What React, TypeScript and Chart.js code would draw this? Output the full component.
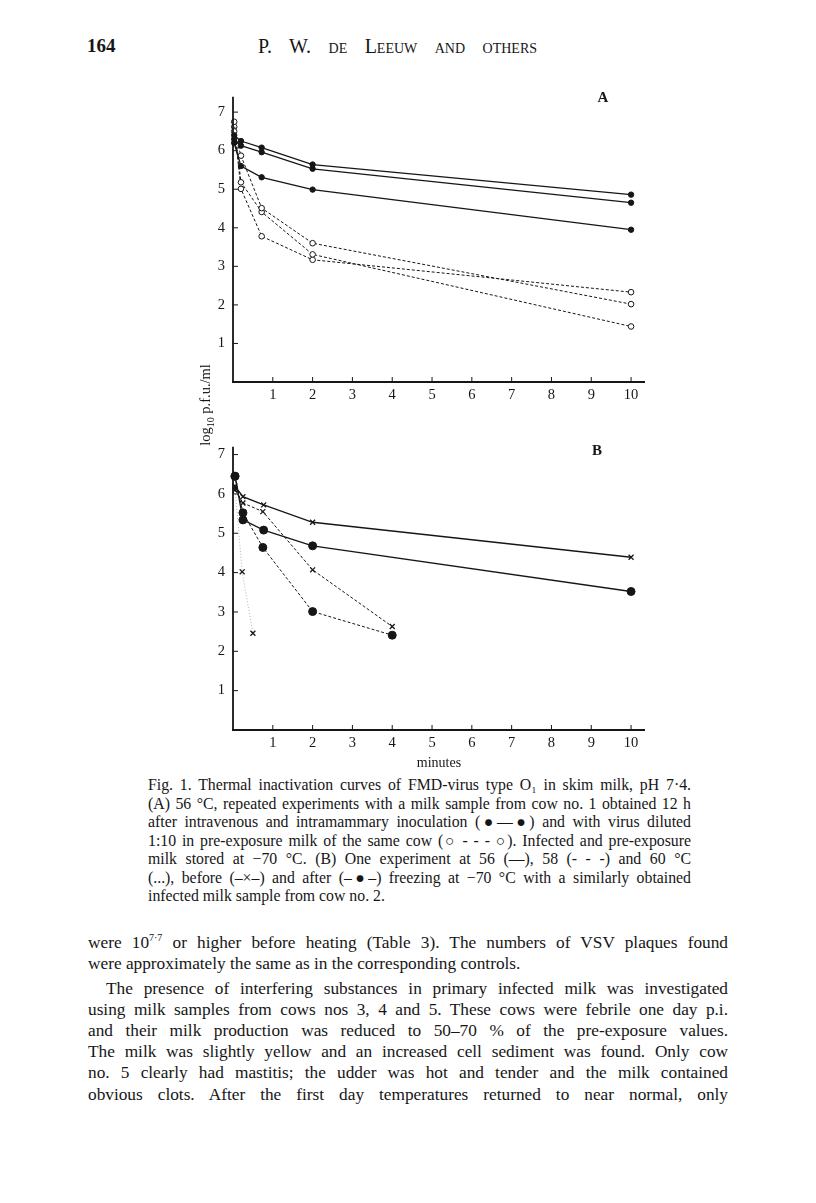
import React, { useEffect, useRef } from "react";
import { Chart, registerables } from "chart.js";

Chart.register(...registerables);

const INK = "#161616";
const SERIF = "'Liberation Serif', 'DejaVu Serif', serif";

// ---- shared axis ticks ----
const xTicks = [1, 2, 3, 4, 5, 6, 7, 8, 9, 10];
const yTicks = [1, 2, 3, 4, 5, 6, 7];

// ---- Panel A: 56 °C, infected milk (solid, filled circles) ----
const aInfected1: [number, number][] = [[0.03, 6.4], [0.2, 6.25], [0.72, 6.08], [2, 5.64], [10, 4.86]];
const aInfected2: [number, number][] = [[0.03, 6.3], [0.2, 6.13], [0.72, 5.96], [2, 5.53], [10, 4.65]];
const aInfected3: [number, number][] = [[0.03, 6.2], [0.2, 5.6], [0.72, 5.31], [2, 4.99], [10, 3.95]];
// ---- Panel A: virus diluted 1:10 in pre-exposure milk (dashed, open circles) ----
const aDiluted1: [number, number][] = [[0.03, 6.5], [0.2, 5.87], [0.72, 4.51], [2, 3.6], [10, 2.02]];
const aDiluted2: [number, number][] = [[0.03, 6.75], [0.2, 5.18], [0.72, 4.41], [2, 3.31], [10, 1.44]];
const aDiluted3: [number, number][] = [[0.03, 6.62], [0.2, 5.01], [0.72, 3.78], [2, 3.17], [10, 2.33]];

// ---- Panel B: cow no. 2 ----
const b56Before: [number, number][] = [[0.05, 6.2], [0.25, 5.93], [0.77, 5.72], [2, 5.28], [10, 4.39]];
const b56After: [number, number][] = [[0.05, 6.45], [0.25, 5.34], [0.77, 5.08], [2, 4.68], [10, 3.52]];
const b58Before: [number, number][] = [[0.05, 6.1], [0.25, 5.77], [0.75, 5.55], [2, 4.07], [4, 2.63]];
const b58After: [number, number][] = [[0.05, 6.45], [0.25, 5.52], [0.75, 4.64], [2, 3.01], [4, 2.41]];
const b60Before: [number, number][] = [[0.05, 6.15], [0.23, 4.02], [0.5, 2.46]];

type Series = {
  pts: [number, number][];
  dash: number[];
  lw: number;
  style: string;
  r: number;
  fill: string;
  line?: string;
};

const seriesA: Series[] = [
  { pts: aInfected1, dash: [], lw: 1.3, style: "circle", r: 2.7, fill: INK },
  { pts: aInfected2, dash: [], lw: 1.3, style: "circle", r: 2.7, fill: INK },
  { pts: aInfected3, dash: [], lw: 1.3, style: "circle", r: 2.7, fill: INK },
  { pts: aDiluted1, dash: [3, 2], lw: 1, style: "circle", r: 2.8, fill: "#fff" },
  { pts: aDiluted2, dash: [3, 2], lw: 1, style: "circle", r: 2.8, fill: "#fff" },
  { pts: aDiluted3, dash: [3, 2], lw: 1, style: "circle", r: 2.8, fill: "#fff" },
];

const seriesB: Series[] = [
  { pts: b56Before, dash: [], lw: 1.3, style: "crossRot", r: 3.5, fill: INK },
  { pts: b56After, dash: [], lw: 1.3, style: "circle", r: 4, fill: INK },
  { pts: b58Before, dash: [3, 2], lw: 1, style: "crossRot", r: 3.5, fill: INK },
  { pts: b58After, dash: [3, 2], lw: 1, style: "circle", r: 4, fill: INK },
  { pts: b60Before, dash: [1, 2], lw: 1, style: "crossRot", r: 3.5, fill: INK, line: "rgba(0,0,0,0.3)" },
];

const axesPlugin = {
  id: "inwardAxes",
  afterDatasetsDraw(chart: any) {
    const { ctx, scales } = chart;
    const x = scales.x;
    const y = scales.y;
    const x0 = x.getPixelForValue(0);
    const y0 = y.getPixelForValue(0);
    const xEnd = x.getPixelForValue(x.max);
    const yTop = y.getPixelForValue(y.max);
    ctx.save();
    ctx.strokeStyle = INK;
    ctx.setLineDash([]);
    ctx.lineWidth = 1.8;
    ctx.beginPath();
    ctx.moveTo(x0, y0 + 1);
    ctx.lineTo(x0, yTop);
    ctx.moveTo(x0 - 1, y0);
    ctx.lineTo(xEnd, y0);
    ctx.stroke();
    ctx.lineWidth = 1;
    ctx.beginPath();
    x.ticks.forEach((t: any) => {
      const px = x.getPixelForValue(t.value);
      ctx.moveTo(px, y0);
      ctx.lineTo(px, y0 - 5);
    });
    y.ticks.forEach((t: any) => {
      const py = y.getPixelForValue(t.value);
      ctx.moveTo(x0, py);
      ctx.lineTo(x0 + 5, py);
    });
    ctx.stroke();
    ctx.restore();
  },
};

type PanelProps = {
  left: number;
  top: number;
  width: number;
  height: number;
  series: Series[];
  xMax: number;
  yMax: number;
  padTop: number;
  padRight: number;
  yW: number;
  xH: number;
  xTitle?: string;
};

function Panel(p: PanelProps) {
  const ref = useRef<HTMLCanvasElement>(null);
  useEffect(() => {
    if (!ref.current) return;
    const tickFont = { family: SERIF, size: 14.5 };
    const chart = new Chart(ref.current, {
      type: "scatter",
      data: {
        datasets: p.series.map((s) => ({
          data: s.pts.map(([x, y]) => ({ x, y })),
          showLine: true,
          borderColor: s.line || INK,
          borderWidth: s.lw,
          borderDash: s.dash,
          pointStyle: s.style as any,
          pointRadius: s.r,
          pointBackgroundColor: s.fill,
          pointBorderColor: INK,
          pointBorderWidth: s.style === "crossRot" ? 1.3 : 1,
          tension: 0,
          clip: false as any,
        })),
      },
      options: {
        responsive: false,
        animation: false,
        layout: { padding: { top: p.padTop, right: p.padRight, left: 0, bottom: 0 } },
        plugins: { legend: { display: false }, tooltip: { enabled: false } },
        scales: {
          x: {
            type: "linear",
            min: 0,
            max: p.xMax,
            grid: { display: false, drawTicks: false },
            border: { display: false },
            ticks: { font: tickFont, color: INK, padding: 4, maxRotation: 0, autoSkip: false },
            afterBuildTicks: (s: any) => {
              s.ticks = xTicks.map((v) => ({ value: v }));
            },
            afterFit: (s: any) => {
              s.height = p.xH;
            },
            title: p.xTitle
              ? { display: true, text: p.xTitle, color: INK, font: { family: SERIF, size: 14 }, padding: { top: 0, bottom: 0 } }
              : { display: false },
          },
          y: {
            type: "linear",
            min: 0,
            max: p.yMax,
            grid: { display: false, drawTicks: false },
            border: { display: false },
            ticks: { font: tickFont, color: INK, padding: 8, autoSkip: false },
            afterBuildTicks: (s: any) => {
              s.ticks = yTicks.map((v) => ({ value: v }));
            },
            afterFit: (s: any) => {
              s.width = p.yW;
            },
          },
        },
      },
      plugins: [axesPlugin],
    });
    return () => chart.destroy();
  }, []);
  return (
    <canvas
      ref={ref}
      width={p.width}
      height={p.height}
      style={{ position: "absolute", left: p.left, top: p.top, width: p.width, height: p.height }}
    />
  );
}

const headerPage = "164";
const headerTitle = "P. W. de Leeuw and others";

const captionLines = [
  "Fig. 1. Thermal inactivation curves of FMD-virus type O\u2081 in skim milk, pH 7\u00b74.",
  "(A) 56 \u00b0C, repeated experiments with a milk sample from cow no. 1 obtained 12 h",
  "after intravenous and intramammary inoculation (\u25cf\u2014\u25cf) and with virus diluted",
  "1:10 in pre-exposure milk of the same cow (\u25cb - - - \u25cb). Infected and pre-exposure",
  "milk stored at \u221270 \u00b0C. (B) One experiment at 56 (\u2014), 58 (- - -) and 60 \u00b0C",
  "(...), before (\u2013\u00d7\u2013) and after (\u2013\u25cf\u2013) freezing at \u221270 \u00b0C with a similarly obtained",
  "infected milk sample from cow no. 2.",
];
const captionY = [785, 803.5, 822, 840.5, 859, 877.5, 896];

const bodyY = [942, 963, 988, 1009, 1030, 1051, 1072, 1094];

function Line({ y, left, right, size, lh, justify, indent, children, font }: any) {
  return (
    <div
      style={{
        position: "absolute",
        left,
        width: right - left,
        top: y - lh / 2,
        height: lh,
        lineHeight: lh + "px",
        fontSize: size,
        fontFamily: font || SERIF,
        color: INK,
        textAlign: justify ? "justify" : "left",
        textAlignLast: justify ? "justify" : "left",
        textIndent: indent || 0,
        whiteSpace: "normal",
        overflow: "visible",
      }}
    >
      {children}
    </div>
  );
}

export default function App() {
  const bodySize = 17.3;
  const capSize = 15.8;
  return (
    <div style={{ position: "absolute", left: 0, top: 0, width: 816, height: 1203, background: "#fff", overflow: "hidden" }}>
      <div style={{ position: "absolute", left: 87, top: 36, fontFamily: SERIF, fontSize: 19, fontWeight: "bold", color: INK, lineHeight: "20px" }}>
        {headerPage}
      </div>
      <div
        style={{
          position: "absolute",
          left: 258,
          width: 279,
          top: 36,
          fontFamily: SERIF,
          fontSize: 20,
          fontVariant: "small-caps",
          color: INK,
          lineHeight: "20px",
          textAlign: "justify",
          textAlignLast: "justify",
        }}
      >
        {headerTitle}
      </div>

      <Panel left={200} top={80} width={460} height={330} series={seriesA} xMax={10.35} yMax={7.4} padTop={7} padRight={15} yW={33} xH={28} />
      <Panel left={200} top={430} width={460} height={342} series={seriesB} xMax={10.35} yMax={7.2} padTop={13} padRight={15} yW={33} xH={42} xTitle="minutes" />

      <div style={{ position: "absolute", left: 603 - 10, top: 97 - 10, width: 20, textAlign: "center", fontFamily: SERIF, fontWeight: "bold", fontSize: 15, lineHeight: "20px", color: INK }}>A</div>
      <div style={{ position: "absolute", left: 597 - 10, top: 450 - 10, width: 20, textAlign: "center", fontFamily: SERIF, fontWeight: "bold", fontSize: 15, lineHeight: "20px", color: INK }}>B</div>

      <div
        style={{
          position: "absolute",
          left: 205 - 60,
          top: 405 - 10,
          width: 120,
          height: 20,
          lineHeight: "20px",
          textAlign: "center",
          transform: "rotate(-90deg)",
          fontFamily: SERIF,
          fontSize: 14.5,
          color: INK,
          whiteSpace: "nowrap",
        }}
      >
        log<sub style={{ fontSize: 10 }}>10</sub> p.f.u./ml
      </div>

      {captionLines.map((t, i) => (
        <Line key={i} y={captionY[i]} left={148} right={691} size={capSize} lh={18} justify={i !== captionLines.length - 1}>
          {t}
        </Line>
      ))}

      <Line y={bodyY[0]} left={88} right={728} size={bodySize} lh={21} justify>
        were 10<sup style={{ fontSize: 10, lineHeight: 0 }}>7·7</sup> or higher before heating (Table 3). The numbers of VSV plaques found
      </Line>
      <Line y={bodyY[1]} left={88} right={728} size={bodySize} lh={21}>
        were approximately the same as in the corresponding controls.
      </Line>
      <Line y={bodyY[2]} left={88} right={728} size={bodySize} lh={21} justify indent={18}>
        The presence of interfering substances in primary infected milk was investigated
      </Line>
      <Line y={bodyY[3]} left={88} right={728} size={bodySize} lh={21} justify>
        using milk samples from cows nos 3, 4 and 5. These cows were febrile one day p.i.
      </Line>
      <Line y={bodyY[4]} left={88} right={728} size={bodySize} lh={21} justify>
        and their milk production was reduced to 50–70 % of the pre-exposure values.
      </Line>
      <Line y={bodyY[5]} left={88} right={728} size={bodySize} lh={21} justify>
        The milk was slightly yellow and an increased cell sediment was found. Only cow
      </Line>
      <Line y={bodyY[6]} left={88} right={728} size={bodySize} lh={21} justify>
        no. 5 clearly had mastitis; the udder was hot and tender and the milk contained
      </Line>
      <Line y={bodyY[7]} left={88} right={728} size={bodySize} lh={21} justify>
        obvious clots. After the first day temperatures returned to near normal, only
      </Line>
    </div>
  );
}
